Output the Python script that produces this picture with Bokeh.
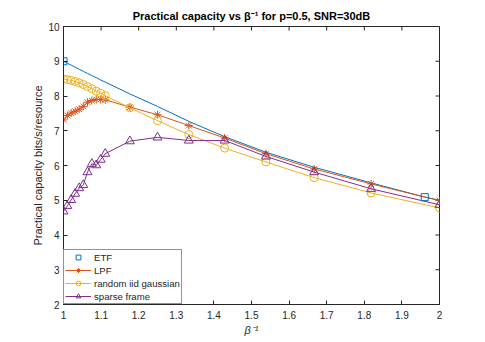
import math
from bokeh.plotting import figure
from bokeh.models import (FixedTicker, Legend, LegendItem, Range1d,
                          NumeralTickFormatter)
from bokeh.embed import file_html
from bokeh.resources import INLINE

# ---- data (x = beta^-1) ----
x_vals = [1.0, 1.0101, 1.0204, 1.0309, 1.0417, 1.0526, 1.0638, 1.0753, 1.0870,
          1.0989, 1.1111, 1.1765, 1.25, 1.3333, 1.4286, 1.5385, 1.6667, 1.8182, 2.0]
lpf = [7.31, 7.44, 7.51, 7.56, 7.62, 7.70, 7.82, 7.87, 7.90, 7.90, 7.89,
       7.68, 7.46, 7.15, 6.79, 6.34, 5.90, 5.47, 4.99]
gauss = [8.49, 8.47, 8.45, 8.42, 8.38, 8.33, 8.27, 8.21, 8.14, 8.08, 8.01,
         7.66, 7.29, 6.89, 6.50, 6.10, 5.65, 5.21, 4.78]
sparse = [4.68, 4.84, 5.01, 5.19, 5.35, 5.44, 5.81, 6.05, 6.01, 6.17, 6.34,
          6.70, 6.81, 6.72, 6.72, 6.26, 5.81, 5.33, 4.87]

etf_line_x = [1.0, 1.0, 1.0101, 1.0204, 1.0309, 1.0417, 1.0526, 1.0638, 1.0753,
              1.0870, 1.0989, 1.1111, 1.1765, 1.25, 1.3333, 1.4286, 1.5385,
              1.6667, 1.8182, 1.9608, 2.0]
etf_line_y = [2.0, 9.0, 8.94, 8.89, 8.83, 8.77, 8.71, 8.65, 8.59, 8.53, 8.46,
              8.40, 8.06, 7.70, 7.27, 6.83, 6.38, 5.95, 5.50, 5.09, 5.00]
etf_mark_x = [1.0, 1.9608]
etf_mark_y = [9.0, 5.09]

x_ticks = [1.0, 1.1, 1.2, 1.3, 1.4, 1.5, 1.6, 1.7, 1.8, 1.9, 2.0]
y_ticks = [2, 3, 4, 5, 6, 7, 8, 9, 10]
x_lim = [1, 2]
y_lim = [2, 10]

C_BLUE = "#0072BD"
C_RED = "#D95319"
C_YEL = "#EDB120"
C_PUR = "#7E2F8E"
AX = "#262626"
FONT = "Liberation Sans"

p = figure(width=480, height=340, output_backend="svg", toolbar_location=None,
           x_range=Range1d(*x_lim), y_range=Range1d(*y_lim),
           min_border_left=63, min_border_right=41, min_border_top=26,
           min_border_bottom=36)
p.outline_line_color = AX
p.outline_line_width = 1
p.xgrid.visible = False
p.ygrid.visible = False
p.background_fill_color = "white"

p.title.text = "Practical capacity vs \u03b2\u207b\u00b9 for p=0.5, SNR=30dB"
p.title.align = "center"
p.title.text_font = FONT
p.title.text_font_size = "11px"
p.title.text_font_style = "bold"
p.title.text_color = "black"
p.title.standoff = 9

p.xaxis.ticker = FixedTicker(ticks=x_ticks)
p.yaxis.ticker = FixedTicker(ticks=y_ticks)
p.xaxis.formatter = NumeralTickFormatter(format="0.[0]")
for ax in p.xaxis + p.yaxis:
    ax.axis_line_color = AX
    ax.axis_line_width = 1
    ax.major_tick_in = 4
    ax.major_tick_out = 0
    ax.minor_tick_line_color = None
    ax.major_tick_line_color = AX
    ax.major_label_text_font = FONT
    ax.major_label_text_color = AX
    ax.major_label_text_font_size = "10px"
p.xaxis.major_label_standoff = 6
p.yaxis.major_label_standoff = 4

p.xaxis.axis_label = "\u03b2\u207b\u00b9"
p.xaxis.axis_label_text_font = FONT
p.xaxis.axis_label_text_font_size = "11px"
p.xaxis.axis_label_text_font_style = "italic"
p.xaxis.axis_label_text_color = AX
p.xaxis.axis_label_standoff = 2
p.yaxis.axis_label = "Practical capacity bits/s/resource"
p.yaxis.axis_label_text_font = FONT
p.yaxis.axis_label_text_font_size = "11px"
p.yaxis.axis_label_text_font_style = "normal"
p.yaxis.axis_label_text_color = AX
p.yaxis.axis_label_standoff = 1

# inward tick marks on the top and right edges of the box (outer half is clipped)
p.scatter(x_ticks, [y_lim[1]] * len(x_ticks), marker="dash", angle=math.pi / 2,
          size=8, line_color=AX, line_width=1)
p.scatter([x_lim[1]] * len(y_ticks), y_ticks, marker="dash", size=8,
          line_color=AX, line_width=1)

# ---- glyphs ----
etf_l = p.line(etf_line_x, etf_line_y, line_color=C_BLUE, line_width=1)
lpf_l = p.line(x_vals, lpf, line_color=C_RED, line_width=1)
lpf_m = p.scatter(x_vals, lpf, marker="asterisk", size=8, line_color=C_RED,
                  line_width=1)
gau_l = p.line(x_vals, gauss, line_color=C_YEL, line_width=1)
gau_m = p.scatter(x_vals, gauss, marker="circle", size=8, line_color=C_YEL,
                  fill_color=None, line_width=1)
spa_l = p.line(x_vals, sparse, line_color=C_PUR, line_width=1)
spa_m = p.scatter(x_vals, sparse, marker="triangle", size=9, line_color=C_PUR,
                  fill_color=None, line_width=1)
etf_m = p.scatter(etf_mark_x, etf_mark_y, marker="square", size=7,
                  line_color=C_BLUE, fill_color=None, line_width=1)

legend = Legend(items=[
    LegendItem(label="ETF", renderers=[etf_m]),
    LegendItem(label="LPF", renderers=[lpf_l, lpf_m]),
    LegendItem(label="random iid gaussian", renderers=[gau_l, gau_m]),
    LegendItem(label="sparse frame", renderers=[spa_l, spa_m]),
], location="bottom_left", margin=0, padding=1, spacing=1,
    label_height=12, glyph_height=12, glyph_width=26, label_standoff=3,
    label_text_font=FONT, label_text_font_size="9.6px", label_text_color=AX,
    border_line_color=AX, border_line_width=1, background_fill_color="white",
    background_fill_alpha=1.0)
p.add_layout(legend)

open("out.html", "w").write(file_html(p, INLINE))
